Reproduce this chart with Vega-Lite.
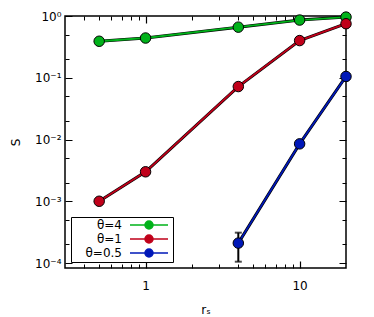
{
  "$schema": "https://vega.github.io/schema/vega-lite/v6.json",
  "width": 281,
  "height": 252,
  "autosize": "none",
  "padding": {"left": 65, "top": 16, "right": 28, "bottom": 49},
  "background": "white",
  "config": {
    "font": "DejaVu Sans",
    "view": {"stroke": "black", "strokeWidth": 1.5},
    "axis": {
      "domain": false,
      "ticks": false,
      "gridColor": "black",
      "gridOpacity": 1,
      "gridWidth": 1,
      "labelFont": "DejaVu Sans",
      "labelFontSize": 12,
      "labelColor": "black",
      "labelOverlap": false,
      "labelFlush": false,
      "titleFont": "DejaVu Sans",
      "titleFontSize": 12,
      "titleFontWeight": "normal",
      "titleColor": "black"
    }
  },
  "datasets": {
    "s": [
      {"r": 0.5, "S": 0.39, "theta": "θ=4"},
      {"r": 1, "S": 0.44, "theta": "θ=4"},
      {"r": 4, "S": 0.66, "theta": "θ=4"},
      {"r": 10, "S": 0.86, "theta": "θ=4"},
      {"r": 20, "S": 0.96, "theta": "θ=4"},
      {"r": 0.5, "S": 0.001, "theta": "θ=1"},
      {"r": 1, "S": 0.003, "theta": "θ=1"},
      {"r": 4, "S": 0.072, "theta": "θ=1"},
      {"r": 10, "S": 0.40, "theta": "θ=1"},
      {"r": 20, "S": 0.75, "theta": "θ=1"},
      {"r": 4, "S": 0.00021, "theta": "θ=0.5"},
      {"r": 10, "S": 0.0085, "theta": "θ=0.5"},
      {"r": 20, "S": 0.105, "theta": "θ=0.5"}
    ],
    "err": [{"r": 4, "lo": 0.000105, "hi": 0.00031}]
  },
  "layer": [
    {
      "layer": [
        {
          "data": {"name": "s"},
          "mark": {"type": "line", "color": "black", "strokeWidth": 3},
          "encoding": {
            "x": {"field": "r", "type": "quantitative"},
            "y": {"field": "S", "type": "quantitative"},
            "detail": {"field": "theta"}
          }
        },
        {
          "data": {"name": "s"},
          "mark": {"type": "line", "strokeWidth": 1.8},
          "encoding": {
            "x": {"field": "r", "type": "quantitative"},
            "y": {"field": "S", "type": "quantitative"},
            "color": {"field": "theta", "type": "nominal",
              "scale": {"domain": ["θ=4", "θ=1", "θ=0.5"], "range": ["#00b21a", "#c0001a", "#0018b8"]},
              "legend": {"title": null, "orient": "bottom-left", "offset": 6, "strokeColor": "black", "fillColor": "white", "padding": 2,
                "labelFontSize": 12, "labelColor": "black", "labelAlign": "right", "labelOffset": -33, "symbolOffset": 70,
                "symbolType": "M-3.8,0H3.8M-0.8,0A0.8,0.8 0 1,0 0.8,0A0.8,0.8 0 1,0 -0.8,0Z",
                "symbolSize": 100, "symbolStrokeWidth": 1.5, "rowPadding": 0,
                "encode": {"symbols": {"update": {"fill": {"scale": "color", "field": "value"}, "stroke": {"scale": "color", "field": "value"}, "opacity": {"value": 1}}}}}
            }
          }
        },
        {
          "data": {"name": "err"},
          "mark": {"type": "errorbar", "ticks": {"size": 7}, "thickness": 2, "color": "black"},
          "encoding": {
            "x": {"field": "r", "type": "quantitative"},
            "y": {"field": "lo", "type": "quantitative"},
            "y2": {"field": "hi"}
          }
        },
        {
          "data": {"name": "s"},
          "mark": {"type": "circle", "size": 110, "opacity": 1, "stroke": "black", "strokeWidth": 1},
          "encoding": {
            "x": {"field": "r", "type": "quantitative"},
            "y": {"field": "S", "type": "quantitative"},
            "color": {"field": "theta", "type": "nominal",
              "scale": {"domain": ["θ=4", "θ=1", "θ=0.5"], "range": ["#00b21a", "#c0001a", "#0018b8"]},
              "legend": {"title": null, "orient": "bottom-left", "offset": 6, "strokeColor": "black", "fillColor": "white", "padding": 2,
                "labelFontSize": 12, "labelColor": "black", "labelAlign": "right", "labelOffset": -33, "symbolOffset": 70,
                "symbolType": "M-3.8,0H3.8M-0.8,0A0.8,0.8 0 1,0 0.8,0A0.8,0.8 0 1,0 -0.8,0Z",
                "symbolSize": 100, "symbolStrokeWidth": 1.5, "rowPadding": 0,
                "encode": {"symbols": {"update": {"fill": {"scale": "color", "field": "value"}, "stroke": {"scale": "color", "field": "value"}, "opacity": {"value": 1}}}}}
            }
          }
        }
      ],
      "encoding": {
        "x": {"field": "r", "type": "quantitative",
          "scale": {"type": "log", "domain": [0.3, 20], "nice": false},
          "axis": {"orient": "bottom", "title": "rₛ", "values": [1, 10], "format": "d",
            "grid": true, "gridDash": [7, 238, 7, 1000], "gridWidth": 1.2,
            "labelPadding": 12, "titlePadding": 13}
        },
        "y": {"field": "S", "type": "quantitative",
          "scale": {"type": "log", "domain": [0.000083, 1], "nice": false},
          "axis": {"orient": "left", "title": "S",
            "values": [0.0001, 0.001, 0.01, 0.1, 1],
            "labelExpr": "datum.value == 1 ? '10⁰' : datum.value == 0.1 ? '10⁻¹' : datum.value == 0.01 ? '10⁻²' : datum.value == 0.001 ? '10⁻³' : '10⁻⁴'",
            "grid": true, "gridDash": [7, 267, 7, 1000], "gridWidth": 1.2,
            "labelPadding": 4, "titlePadding": 12}
        }
      }
    },
    {
      "data": {"name": "s"},
      "mark": {"type": "point", "opacity": 0},
      "encoding": {
        "x": {"field": "r", "type": "quantitative",
          "scale": {"type": "log", "domain": [0.3, 20], "nice": false},
          "axis": {"title": null, "labels": false,
            "values": [0.4, 0.5, 0.6, 0.7, 0.8, 0.9, 2, 3, 4, 5, 6, 7, 8, 9],
            "grid": true, "gridDash": [4, 244, 4, 1000]}
        },
        "y": {"field": "S", "type": "quantitative",
          "scale": {"type": "log", "domain": [0.000083, 1], "nice": false},
          "axis": {"title": null, "labels": false,
            "values": [0.0002, 0.0005, 0.002, 0.005, 0.02, 0.05, 0.2, 0.5],
            "grid": true, "gridDash": [4, 273, 4, 1000]}
        }
      }
    }
  ],
  "resolve": {"axis": {"x": "independent", "y": "independent"}}
}
